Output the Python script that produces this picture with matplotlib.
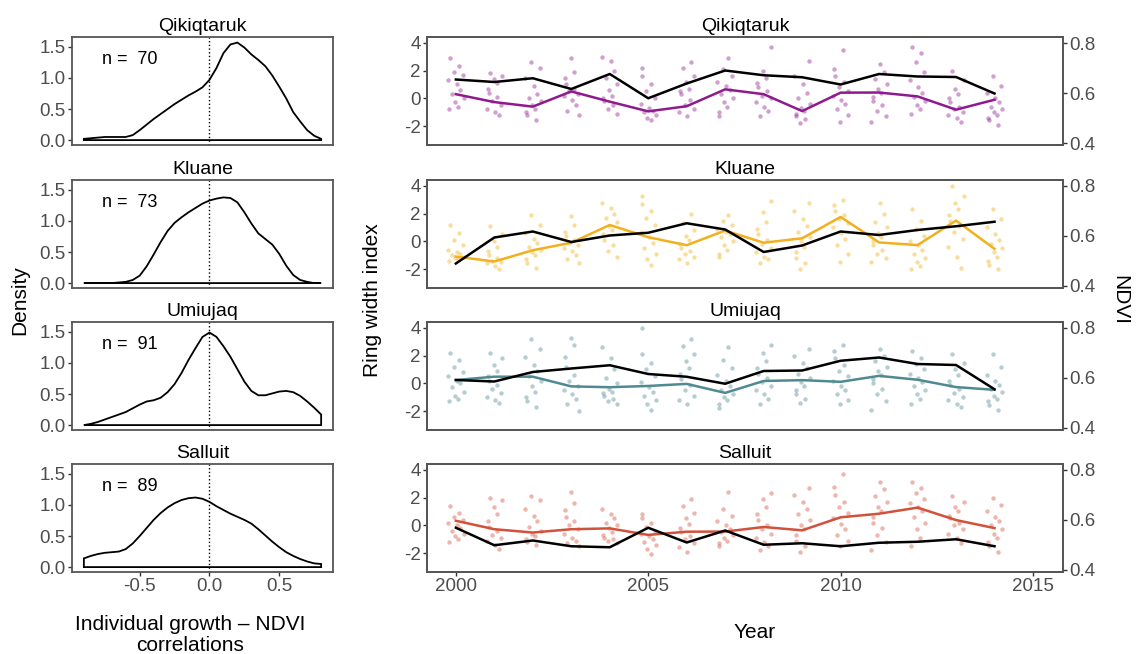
import numpy as np
import matplotlib
matplotlib.use('Agg')
import matplotlib.pyplot as plt

plt.rcParams['font.family'] = ['Liberation Sans', 'DejaVu Sans']
plt.rcParams['axes.unicode_minus'] = False

sites = ['Qikiqtaruk', 'Kluane', 'Umiujaq', 'Salluit']
n_trees = [70, 73, 91, 89]
colours = ['#8E1A8E', '#F2B01E', '#4F8A92', '#D2513A']

# density of individual growth - NDVI correlations
corr_x = np.round(np.arange(-0.9, 0.801, 0.05), 2)
dens_qik = [0.02, 0.03, 0.04, 0.05, 0.05, 0.05, 0.05, 0.08, 0.16, 0.25, 0.34, 0.42,
            0.50, 0.58, 0.65, 0.72, 0.78, 0.85, 0.97, 1.16, 1.40, 1.54, 1.57, 1.49,
            1.38, 1.29, 1.19, 1.04, 0.86, 0.67, 0.45, 0.30, 0.16, 0.07, 0.02]
dens_klu = [0.0, 0.0, 0.0, 0.0, 0.0, 0.01, 0.02, 0.05, 0.12, 0.27, 0.46, 0.66,
            0.84, 0.97, 1.06, 1.14, 1.21, 1.28, 1.33, 1.36, 1.38, 1.37, 1.30, 1.14,
            0.96, 0.80, 0.71, 0.62, 0.47, 0.28, 0.13, 0.05, 0.02, 0.0, 0.0]
dens_umi = [0.0, 0.02, 0.05, 0.09, 0.13, 0.17, 0.21, 0.27, 0.33, 0.38, 0.40, 0.44,
            0.53, 0.66, 0.84, 1.05, 1.24, 1.42, 1.49, 1.42, 1.27, 1.10, 0.90, 0.70,
            0.55, 0.48, 0.48, 0.51, 0.54, 0.55, 0.53, 0.47, 0.38, 0.28, 0.17]
dens_sal = [0.14, 0.18, 0.21, 0.23, 0.24, 0.25, 0.29, 0.38, 0.50, 0.63, 0.76, 0.87,
            0.96, 1.03, 1.08, 1.11, 1.12, 1.10, 1.05, 0.98, 0.92, 0.86, 0.81, 0.76,
            0.70, 0.61, 0.51, 0.41, 0.32, 0.24, 0.18, 0.13, 0.09, 0.06, 0.05]
densities = [dens_qik, dens_klu, dens_umi, dens_sal]

years = np.arange(2000, 2015)

# site mean ring width index
rwi_qik = [0.3, -0.27, -0.6, 0.5, -0.24, -0.94, -0.57, 0.65, 0.3, -0.92, 0.41, 0.42, 0.14, -0.82, -0.1]
rwi_klu = [-1.1, -1.46, -0.64, -0.1, 1.18, 0.3, -0.28, 0.78, -0.1, 0.22, 1.76, -0.08, -0.27, 1.5, -0.54]
rwi_umi = [0.24, 0.48, 0.48, -0.22, -0.28, -0.19, -0.04, -0.69, 0.17, 0.23, 0.11, 0.54, 0.26, -0.27, -0.47]
rwi_sal = [0.33, -0.28, -0.52, -0.28, -0.22, -0.69, -0.46, -0.45, -0.12, -0.36, 0.58, 0.84, 1.28, 0.38, -0.2]
rwi_means = [rwi_qik, rwi_klu, rwi_umi, rwi_sal]

# summer NDVI
ndvi_qik = [0.654, 0.644, 0.659, 0.616, 0.676, 0.579, 0.638, 0.690, 0.671, 0.663, 0.634, 0.676, 0.666, 0.664, 0.598]
ndvi_klu = [0.490, 0.594, 0.618, 0.576, 0.602, 0.613, 0.651, 0.626, 0.536, 0.562, 0.618, 0.604, 0.624, 0.639, 0.657]
ndvi_umi = [0.592, 0.586, 0.624, 0.638, 0.651, 0.616, 0.605, 0.577, 0.628, 0.630, 0.669, 0.682, 0.656, 0.652, 0.555]
ndvi_sal = [0.569, 0.499, 0.518, 0.495, 0.491, 0.569, 0.510, 0.558, 0.501, 0.507, 0.495, 0.509, 0.513, 0.523, 0.495]
ndvi = [ndvi_qik, ndvi_klu, ndvi_umi, ndvi_sal]

# individual ring width indices per year
pts_qik = [
    [2.9, 2.3, 1.9, 1.7, 1.3, 1.0, 0.6, 0.3, 0.0, -0.3, -0.6, -0.8],
    [1.8, 1.6, 1.4, 1.1, 0.7, 0.4, 0.1, -0.2, -0.5, -0.8, -1.0, -1.2],
    [2.6, 2.2, 1.5, 0.9, 0.3, 0.0, -0.2, -0.5, -0.8, -1.0, -1.2, -1.6],
    [2.9, 1.9, 1.5, 1.0, 0.7, 0.5, 0.3, 0.2, -0.1, -0.5, -0.9, -1.2],
    [3.0, 2.7, 2.0, 1.5, 1.0, 0.6, 0.2, 0.0, -0.2, -0.5, -0.8, -1.1],
    [2.2, 1.6, 1.0, 0.5, 0.0, -0.4, -0.7, -0.9, -1.0, -1.2, -1.4, -1.6],
    [2.6, 2.2, 1.6, 1.2, 0.7, 0.5, 0.3, -0.1, -0.5, -0.8, -1.0, -1.3],
    [2.9, 2.1, 1.6, 1.2, 0.9, 0.6, 0.3, 0.0, -0.3, -0.6, -1.0, -1.3],
    [3.7, 2.0, 1.5, 1.1, 0.8, 0.5, 0.2, 0.0, -0.3, -0.6, -0.9, -1.3],
    [2.7, 1.6, 1.0, 0.4, 0.0, -0.4, -0.7, -0.9, -1.1, -1.3, -1.5, -1.8],
    [3.5, 2.1, 1.6, 1.2, 0.8, 0.5, 0.2, -0.1, -0.4, -0.8, -1.2, -1.7],
    [2.5, 1.9, 1.4, 1.0, 0.7, 0.4, 0.1, -0.2, -0.5, -0.9, -1.3, -1.7],
    [3.7, 3.3, 2.6, 1.9, 1.3, 0.8, 0.4, 0.1, -0.2, -0.5, -0.8, -1.1],
    [2.0, 1.3, 0.7, 0.3, 0.0, -0.3, -0.6, -0.8, -1.0, -1.2, -1.4, -1.7],
    [1.6, 0.9, 0.4, 0.0, -0.3, -0.6, -0.8, -1.0, -1.2, -1.4, -1.6, -1.9],
]
pts_klu = [
    [1.2, 0.6, 0.1, -0.3, -0.6, -0.8, -0.9, -1.0, -1.1, -1.2, -1.3, -1.4],
    [1.1, 0.5, 0.0, -0.4, -0.7, -1.0, -1.2, -1.4, -1.5, -1.6, -1.8, -2.0],
    [1.9, 1.2, 0.6, 0.2, -0.1, -0.4, -0.6, -0.8, -1.0, -1.3, -1.6, -1.9],
    [1.8, 1.2, 0.7, 0.4, 0.1, -0.1, -0.3, -0.5, -0.7, -1.0, -1.3, -1.6],
    [2.8, 2.4, 2.0, 1.7, 1.4, 1.1, 0.8, 0.5, 0.1, -0.3, -0.7, -1.1],
    [3.3, 2.7, 2.2, 1.7, 1.2, 0.7, 0.3, -0.1, -0.5, -0.9, -1.3, -1.7],
    [2.0, 1.3, 0.8, 0.4, 0.1, -0.2, -0.5, -0.7, -0.9, -1.1, -1.3, -1.6],
    [1.9, 1.5, 1.2, 0.9, 0.7, 0.5, 0.3, 0.0, -0.3, -0.6, -0.9, -1.1],
    [2.9, 2.1, 1.4, 0.9, 0.5, 0.1, -0.2, -0.5, -0.8, -1.1, -1.3, -1.6],
    [2.8, 2.2, 1.6, 1.1, 0.7, 0.3, 0.0, -0.4, -0.8, -1.2, -1.6, -2.0],
    [3.0, 2.6, 2.2, 1.9, 1.6, 1.3, 1.0, 0.6, 0.2, -0.3, -0.9, -1.5],
    [2.8, 2.0, 1.4, 1.0, 0.6, 0.3, 0.0, -0.3, -0.6, -0.9, -1.2, -1.5],
    [2.3, 1.5, 0.9, 0.4, 0.0, -0.3, -0.6, -0.9, -1.2, -1.5, -1.8, -2.0],
    [4.0, 3.3, 2.8, 2.3, 1.9, 1.5, 1.1, 0.7, 0.2, -0.4, -1.1, -1.9],
    [2.3, 1.6, 1.0, 0.5, 0.1, -0.2, -0.5, -0.8, -1.1, -1.4, -1.7, -2.0],
]
pts_umi = [
    [2.2, 1.7, 1.2, 0.8, 0.5, 0.2, 0.0, -0.3, -0.6, -0.9, -1.1, -1.3],
    [2.2, 1.8, 1.3, 0.9, 0.5, 0.2, -0.1, -0.4, -0.7, -1.0, -1.2, -1.4],
    [3.2, 2.5, 1.9, 1.3, 0.9, 0.5, 0.2, -0.2, -0.6, -1.0, -1.3, -1.7],
    [3.3, 2.8, 1.9, 1.2, 0.6, 0.2, -0.2, -0.5, -0.8, -1.1, -1.5, -2.0],
    [2.6, 1.8, 1.0, 0.4, 0.0, -0.4, -0.6, -0.7, -0.9, -1.1, -1.3, -1.5],
    [4.0, 2.1, 1.5, 1.0, 0.5, 0.1, -0.3, -0.6, -0.9, -1.2, -1.5, -1.9],
    [3.2, 2.7, 2.1, 1.6, 1.1, 0.7, 0.3, -0.1, -0.5, -0.9, -1.2, -1.5],
    [2.6, 1.7, 1.1, 0.6, 0.2, -0.2, -0.5, -0.8, -1.0, -1.2, -1.5, -1.8],
    [2.8, 2.2, 1.6, 1.1, 0.7, 0.4, 0.1, -0.2, -0.5, -0.8, -1.1, -1.5],
    [2.5, 2.0, 1.5, 1.1, 0.7, 0.4, 0.1, -0.2, -0.5, -0.8, -1.1, -1.4],
    [2.8, 2.3, 1.8, 1.3, 0.9, 0.5, 0.2, -0.2, -0.5, -0.8, -1.2, -1.5],
    [2.5, 2.0, 1.6, 1.2, 0.9, 0.6, 0.3, 0.0, -0.4, -0.8, -1.3, -1.9],
    [2.3, 1.8, 1.4, 1.0, 0.7, 0.4, 0.1, -0.2, -0.5, -0.8, -1.1, -1.5],
    [2.1, 1.5, 1.0, 0.6, 0.2, -0.1, -0.4, -0.7, -1.0, -1.2, -1.5, -1.7],
    [2.1, 1.2, 0.6, 0.2, -0.1, -0.4, -0.6, -0.9, -1.1, -1.3, -1.6, -1.9],
]
pts_sal = [
    [1.4, 0.9, 0.6, 0.4, 0.2, 0.0, -0.2, -0.4, -0.6, -0.8, -1.0, -1.2],
    [2.0, 1.8, 1.3, 0.8, 0.3, -0.1, -0.4, -0.7, -0.9, -1.1, -1.4, -1.7],
    [2.1, 1.8, 1.2, 0.7, 0.3, -0.1, -0.4, -0.6, -0.8, -1.0, -1.2, -1.4],
    [2.4, 1.6, 1.1, 0.6, 0.3, 0.0, -0.3, -0.6, -0.9, -1.1, -1.3, -1.5],
    [1.2, 0.8, 0.5, 0.2, 0.0, -0.2, -0.5, -0.7, -0.9, -1.0, -1.1, -1.3],
    [0.8, 0.5, 0.2, -0.1, -0.4, -0.6, -0.8, -1.0, -1.2, -1.4, -1.7, -2.1],
    [1.9, 1.4, 0.9, 0.5, 0.1, -0.2, -0.5, -0.8, -1.0, -1.3, -1.6, -1.9],
    [2.4, 1.2, 0.7, 0.3, 0.0, -0.3, -0.5, -0.7, -0.9, -1.1, -1.3, -1.5],
    [2.3, 1.9, 1.3, 0.8, 0.4, 0.0, -0.3, -0.6, -0.9, -1.2, -1.5, -1.8],
    [2.7, 2.2, 1.7, 1.2, 0.8, 0.4, 0.0, -0.3, -0.7, -1.1, -1.5, -1.9],
    [3.7, 2.8, 2.2, 1.7, 1.3, 0.9, 0.5, 0.1, -0.3, -0.7, -1.1, -1.5],
    [3.1, 2.6, 2.1, 1.7, 1.3, 1.0, 0.6, 0.2, -0.2, -0.7, -1.2, -1.8],
    [3.1, 2.7, 2.3, 1.9, 1.6, 1.3, 1.0, 0.6, 0.2, -0.3, -0.9, -1.5],
    [2.1, 1.7, 1.3, 1.0, 0.7, 0.5, 0.2, 0.0, -0.3, -0.6, -0.9, -1.3],
    [2.0, 1.5, 1.0, 0.6, 0.3, 0.0, -0.3, -0.6, -0.9, -1.2, -1.5, -1.9],
]
rwi_points = [pts_qik, pts_klu, pts_umi, pts_sal]

# horizontal spread of the points around each year
jitter = np.array([-0.15, 0.08, -0.05, 0.18, -0.2, 0.02, 0.12, -0.1, 0.2, -0.02, 0.06, -0.17])

W, H = 1136, 654
fig = plt.figure(figsize=(W / 100, H / 100), dpi=100)

tops = [37, 180, 322, 464]
ph = 108
frame_col = '#555555'
tick_col = '#4D4D4D'


def style_frame(ax):
    for sp in ax.spines.values():
        sp.set_color(frame_col)
        sp.set_linewidth(1.3)
    ax.tick_params(colors='#333333', labelcolor=tick_col, labelsize=13.5,
                   length=3, width=1, pad=1.5)


for i, site in enumerate(sites):
    bottom = 1 - (tops[i] + ph) / H

    #-- density panel
    ax = fig.add_axes([72 / W, bottom, (333 - 72) / W, ph / H])
    xs = np.concatenate([[corr_x[0]], corr_x, [corr_x[-1]]])
    ys = np.concatenate([[0], densities[i], [0]])
    ax.fill(xs, ys, facecolor='none', edgecolor='black', linewidth=1.3)
    ax.axvline(0, color='black', linestyle=':', linewidth=1)
    ax.text(-0.77, 1.29, 'n =  %d' % n_trees[i], fontsize=13, va='center', ha='left')
    ax.set_xlim(-0.985, 0.885)
    ax.set_ylim(-0.079, 1.66)
    ax.set_yticks([0, 0.5, 1.0, 1.5])
    ax.set_yticklabels(['0.0', '0.5', '1.0', '1.5'])
    ax.set_xticks([-0.5, 0, 0.5])
    style_frame(ax)
    if i < 3:
        ax.tick_params(axis='x', length=0, labelbottom=False)
    else:
        ax.set_xticklabels(['-0.5', '0.0', '0.5'])
    ax.set_title(site, fontsize=14, pad=4)

    #-- time series panel
    ax = fig.add_axes([427 / W, bottom, (1063 - 427) / W, ph / H])
    for j, yr in enumerate(years):
        vals = rwi_points[i][j]
        off = np.roll(jitter, j * 5)[:len(vals)]
        ax.scatter(yr + off, vals, s=10, color=colours[i], alpha=0.42,
                   linewidths=0, zorder=2)
    ax.plot(years, rwi_means[i], color=colours[i], linewidth=1.8, zorder=3)
    ax.set_xlim(1999.25, 2015.78)
    ax.set_ylim(-3.37, 4.43)
    ax.set_yticks([-2, 0, 2, 4])
    ax.set_xticks([2000, 2005, 2010, 2015])
    style_frame(ax)
    if i < 3:
        ax.tick_params(axis='x', length=0, labelbottom=False)
    ax.set_title(site, fontsize=14, pad=4)

    ax2 = ax.twinx()
    ax2.plot(years, ndvi[i], color='black', linewidth=1.8, zorder=4)
    ax2.set_ylim(0.392, 0.824)
    ax2.set_yticks([0.4, 0.6, 0.8])
    ax2.set_yticklabels(['0.4', '0.6', '0.8'])
    style_frame(ax2)

fig.text(20 / W, 1 - 300 / H, 'Density', rotation=90, fontsize=15,
         ha='center', va='center')
fig.text(190 / W, 1 - 635 / H, 'Individual growth \u2013 NDVI\ncorrelations',
         fontsize=15, ha='center', va='center', linespacing=1.15)
fig.text(372 / W, 1 - 300 / H, 'Ring width index', rotation=90, fontsize=15,
         ha='center', va='center')
fig.text(1120 / W, 1 - 300 / H, 'NDVI', rotation=270, fontsize=15,
         ha='center', va='center')
fig.text(755 / W, 1 - 632 / H, 'Year', fontsize=15, ha='center', va='center')

fig.savefig('out.png', dpi=100)
